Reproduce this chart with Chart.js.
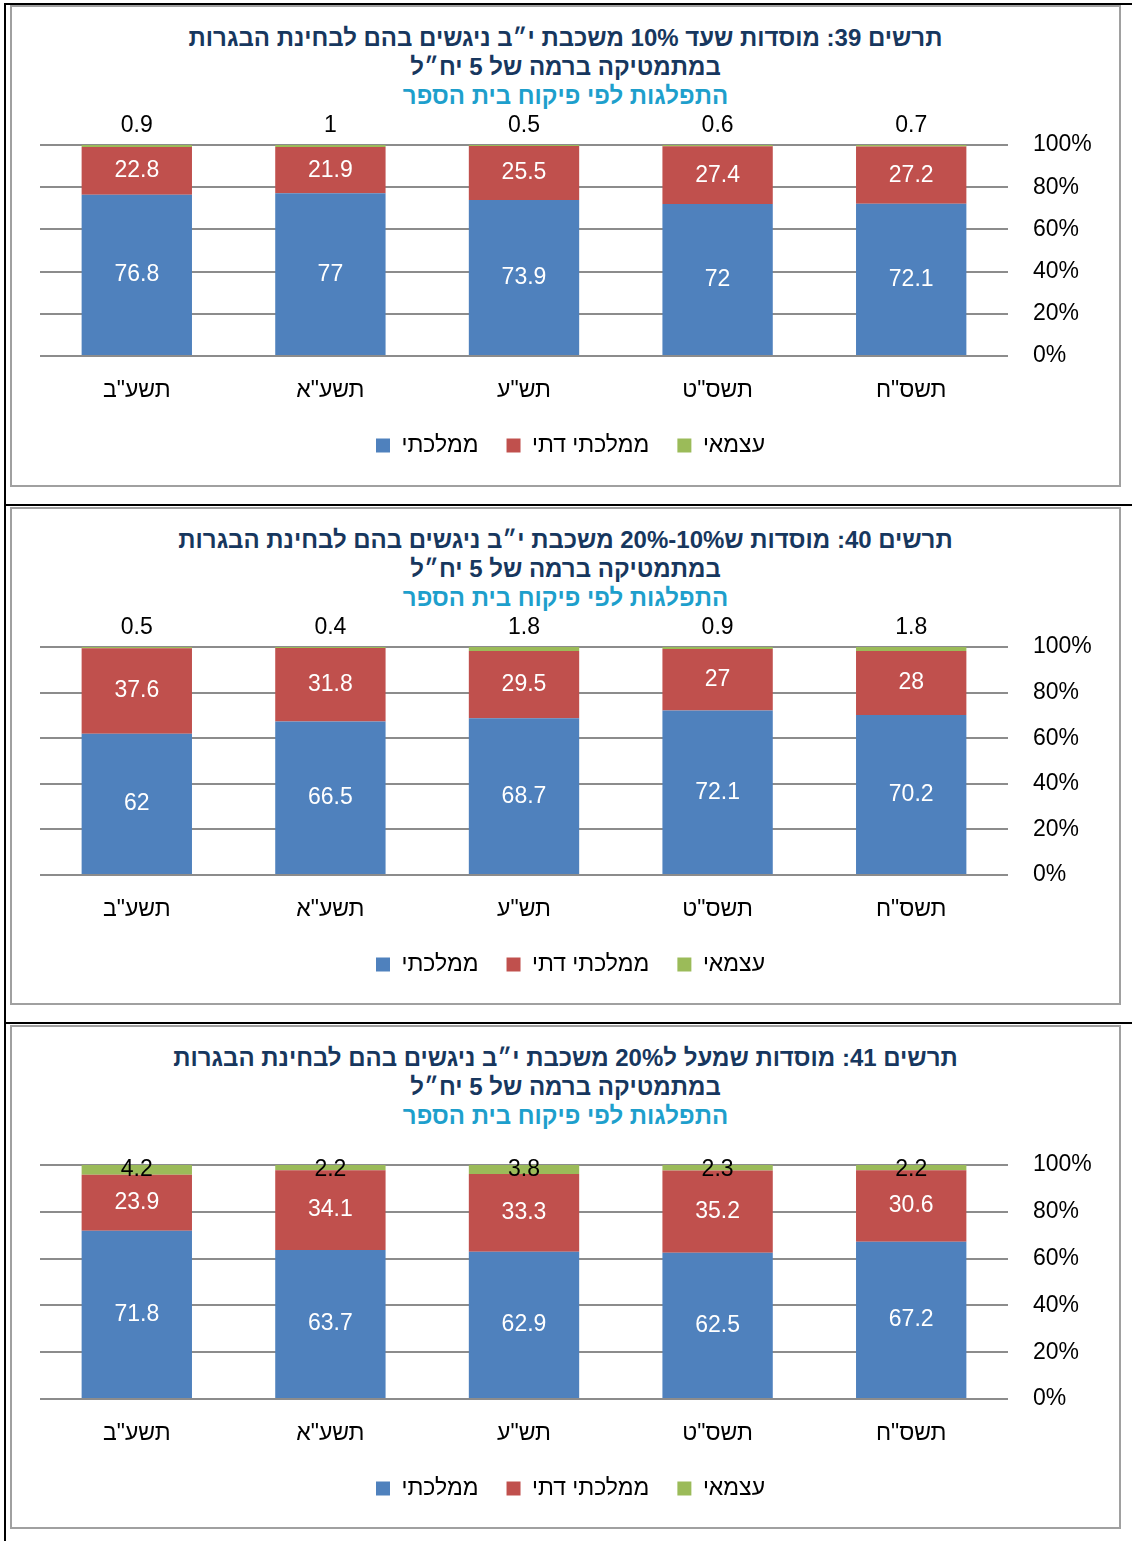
<!DOCTYPE html>
<html lang="he">
<head>
<meta charset="utf-8">
<script src="https://cdn.jsdelivr.net/npm/chart.js@4.4.1/dist/chart.umd.min.js"></script>
<style>
  body { margin: 0; background: #fff; width: 1132px; height: 1541px; position: relative; overflow: hidden; }
  .vline { position: absolute; left: 4px; top: 3px; width: 2px; height: 1538px; background: #000; }
  .hline { position: absolute; left: 4px; width: 1128px; height: 2px; background: #000; }
  .panel { position: absolute; left: 10px; width: 1107px; border: 2px solid #a0a0a0; box-sizing: content-box; }
  .title { position: absolute; left: 0; width: 1107px; top: 16px; text-align: center; direction: rtl;
           font: bold 24px "Liberation Sans", "DejaVu Sans", sans-serif; line-height: 29px; color: #17375E; }
  .title .sub { color: #1E9FCC; }
  canvas { position: absolute; left: 0; }
</style>
</head>
<body>
<div class="vline"></div>
<div class="hline" style="top:3px"></div>
<div class="hline" style="top:504px"></div>
<div class="hline" style="top:1022px"></div>

<div class="panel" style="top:5px;height:478px">
  <div class="title">תרשים 39: מוסדות שעד 10% משכבת י״ב ניגשים בהם לבחינת הבגרות<br>במתמטיקה ברמה של 5 יח״ל<br><span class="sub">התפלגות לפי פיקוח בית הספר</span></div>
  <canvas id="chart1"></canvas>
</div>
<div class="panel" style="top:507px;height:494px">
  <div class="title">תרשים 40: מוסדות ש10%-20% משכבת י״ב ניגשים בהם לבחינת הבגרות<br>במתמטיקה ברמה של 5 יח״ל<br><span class="sub">התפלגות לפי פיקוח בית הספר</span></div>
  <canvas id="chart2"></canvas>
</div>
<div class="panel" style="top:1025px;height:500px">
  <div class="title">תרשים 41: מוסדות שמעל ל20% משכבת י״ב ניגשים בהם לבחינת הבגרות<br>במתמטיקה ברמה של 5 יח״ל<br><span class="sub">התפלגות לפי פיקוח בית הספר</span></div>
  <canvas id="chart3"></canvas>
</div>

<script>
// שנים (מהישנה לחדשה, הציר הפוך כך שהישנה מימין)
const years = ['תשס"ח', 'תשס"ט', 'תש"ע', 'תשע"א', 'תשע"ב'];
const seriesNames = ['ממלכתי', 'ממלכתי דתי', 'עצמאי'];
const seriesColors = ['#4F81BD', '#C0504D', '#9BBB59'];
const yTicks = [0, 20, 40, 60, 80, 100];

// תרשים 39
const c39State = [72.1, 72, 73.9, 77, 76.8];
const c39Religious = [27.2, 27.4, 25.5, 21.9, 22.8];
const c39Independent = [0.7, 0.6, 0.5, 1, 0.9];

// תרשים 40
const c40State = [70.2, 72.1, 68.7, 66.5, 62];
const c40Religious = [28, 27, 29.5, 31.8, 37.6];
const c40Independent = [1.8, 0.9, 1.8, 0.4, 0.5];

// תרשים 41
const c41State = [67.2, 62.5, 62.9, 63.7, 71.8];
const c41Religious = [30.6, 35.2, 33.3, 34.1, 23.9];
const c41Independent = [2.2, 2.3, 3.8, 2.2, 4.2];

Chart.defaults.font.family = '"Liberation Sans", "DejaVu Sans", sans-serif';
Chart.defaults.font.size = 23;
Chart.defaults.color = '#000';

const valueLabels = {
  id: 'valueLabels',
  afterDatasetsDraw(chart, args, opts) {
    const ctx = chart.ctx;
    ctx.save();
    ctx.font = '23px "Liberation Sans", "DejaVu Sans", sans-serif';
    ctx.textAlign = 'center';
    ctx.textBaseline = 'middle';
    chart.data.datasets.forEach((ds, i) => {
      chart.getDatasetMeta(i).data.forEach((bar, j) => {
        let y = (bar.y + bar.base) / 2;
        ctx.fillStyle = '#fff';
        if (i === 2) {
          y = bar.y + opts.topOffset;
          ctx.fillStyle = '#000';
        }
        ctx.fillText(String(ds.rawValues[j]), bar.x, y);
      });
    });
    ctx.restore();
  }
};

function makeChart(id, series, topOffset, height) {
  const canvas = document.getElementById(id);
  canvas.style.top = '98px';
  canvas.width = 1107;
  canvas.height = height;
  canvas.style.width = '1107px';
  canvas.style.height = height + 'px';

  const totals = years.map((_, j) => series.reduce((s, arr) => s + arr[j], 0));
  const datasets = series.map((arr, i) => ({
    label: seriesNames[i],
    data: arr.map((v, j) => v / totals[j] * 100),
    rawValues: arr,
    backgroundColor: seriesColors[i],
    borderWidth: 0,
    barPercentage: 0.57,
    categoryPercentage: 1
  }));

  new Chart(canvas, {
    type: 'bar',
    data: { labels: years, datasets: datasets },
    plugins: [valueLabels],
    options: {
      responsive: false,
      animation: false,
      layout: { padding: { left: 28, top: 40, right: 18 } },
      scales: {
        x: {
          stacked: true,
          reverse: true,
          grid: { display: false, drawTicks: false },
          border: { display: false },
          ticks: { padding: 21 },
          afterFit: s => { s.height = 50; }
        },
        y: {
          stacked: true,
          position: 'right',
          min: 0,
          max: 100,
          afterBuildTicks: s => { s.ticks = yTicks.map(v => ({ value: v })); },
          ticks: { padding: 25, callback: v => v + '%' },
          grid: { color: '#8c8c8c', lineWidth: 2, drawTicks: false },
          border: { display: false },
          afterFit: s => { s.width = 93; }
        }
      },
      plugins: {
        legend: {
          position: 'bottom',
          labels: { boxWidth: 14, boxHeight: 14, padding: 28 }
        },
        tooltip: { enabled: false },
        valueLabels: { topOffset: topOffset }
      }
    }
  });
}

makeChart('chart1', [c39State, c39Religious, c39Independent], -19, 362);
makeChart('chart2', [c40State, c40Religious, c40Independent], -19, 379);
makeChart('chart3', [c41State, c41Religious, c41Independent], 5, 385);
</script>
</body>
</html>
